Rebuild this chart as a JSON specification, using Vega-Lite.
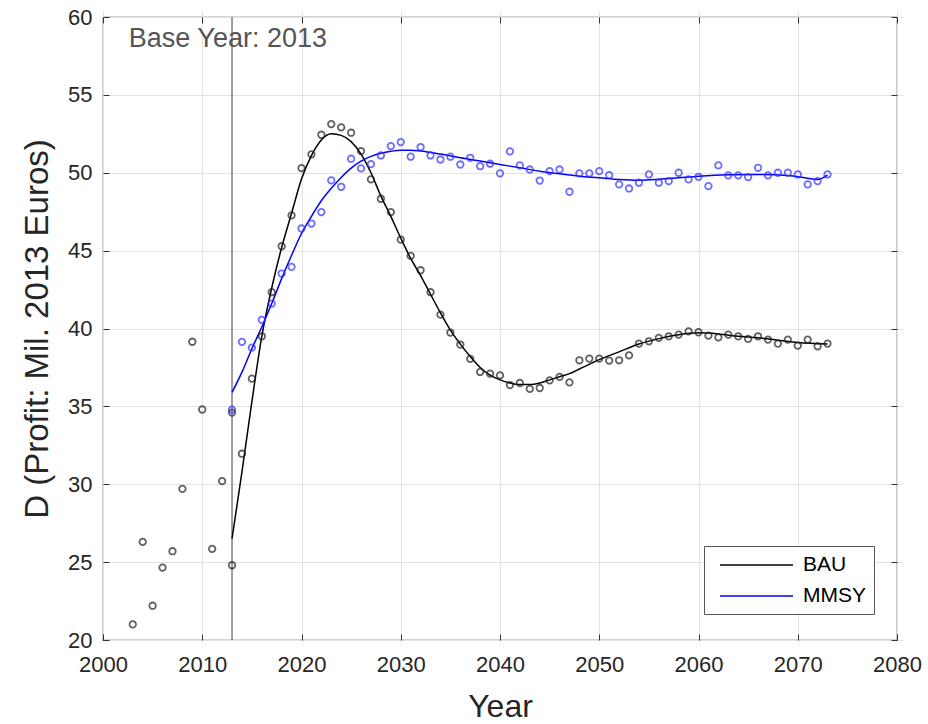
{
  "$schema": "https://vega.github.io/schema/vega-lite/v6.json",
  "width": 794,
  "height": 623,
  "autosize": {"type": "none"},
  "padding": {"left": 103, "top": 17, "right": 31, "bottom": 84},
  "background": "white",
  "config": {
    "font": "Liberation Sans",
    "view": {"stroke": "#555555", "strokeWidth": 1.2},
    "axis": {
      "labelFontSize": 22,
      "labelColor": "#262626",
      "titleColor": "#262626",
      "titleFontWeight": "normal",
      "gridColor": "#e3e3e3",
      "gridWidth": 1,
      "domain": false,
      "tickColor": "#333333",
      "tickSize": 6,
      "offset": -6,
      "labelFlush": false,
      "labelOverlap": false
    }
  },
  "datasets": {
    "pts": [
      {"series": "Hist", "year": 2003, "value": 21.0},
      {"series": "Hist", "year": 2004, "value": 26.3},
      {"series": "Hist", "year": 2005, "value": 22.2},
      {"series": "Hist", "year": 2006, "value": 24.65},
      {"series": "Hist", "year": 2007, "value": 25.7},
      {"series": "Hist", "year": 2008, "value": 29.7},
      {"series": "Hist", "year": 2009, "value": 39.15},
      {"series": "Hist", "year": 2010, "value": 34.8},
      {"series": "Hist", "year": 2011, "value": 25.85},
      {"series": "Hist", "year": 2012, "value": 30.2},
      {"series": "Hist", "year": 2013, "value": 24.8},
      {"series": "BAU", "year": 2013, "value": 34.6},
      {"series": "BAU", "year": 2014, "value": 31.96},
      {"series": "BAU", "year": 2015, "value": 36.78},
      {"series": "BAU", "year": 2016, "value": 39.5},
      {"series": "BAU", "year": 2017, "value": 42.33},
      {"series": "BAU", "year": 2018, "value": 45.28},
      {"series": "BAU", "year": 2019, "value": 47.26},
      {"series": "BAU", "year": 2020, "value": 50.3},
      {"series": "BAU", "year": 2021, "value": 51.18},
      {"series": "BAU", "year": 2022, "value": 52.44},
      {"series": "BAU", "year": 2023, "value": 53.12},
      {"series": "BAU", "year": 2024, "value": 52.91},
      {"series": "BAU", "year": 2025, "value": 52.57},
      {"series": "BAU", "year": 2026, "value": 51.39},
      {"series": "BAU", "year": 2027, "value": 49.57},
      {"series": "BAU", "year": 2028, "value": 48.33},
      {"series": "BAU", "year": 2029, "value": 47.47},
      {"series": "BAU", "year": 2030, "value": 45.71},
      {"series": "BAU", "year": 2031, "value": 44.66},
      {"series": "BAU", "year": 2032, "value": 43.74},
      {"series": "BAU", "year": 2033, "value": 42.33},
      {"series": "BAU", "year": 2034, "value": 40.89},
      {"series": "BAU", "year": 2035, "value": 39.74},
      {"series": "BAU", "year": 2036, "value": 38.97},
      {"series": "BAU", "year": 2037, "value": 38.05},
      {"series": "BAU", "year": 2038, "value": 37.21},
      {"series": "BAU", "year": 2039, "value": 37.1},
      {"series": "BAU", "year": 2040, "value": 36.99},
      {"series": "BAU", "year": 2041, "value": 36.37},
      {"series": "BAU", "year": 2042, "value": 36.5},
      {"series": "BAU", "year": 2043, "value": 36.12},
      {"series": "BAU", "year": 2044, "value": 36.18},
      {"series": "BAU", "year": 2045, "value": 36.67},
      {"series": "BAU", "year": 2046, "value": 36.89},
      {"series": "BAU", "year": 2047, "value": 36.54},
      {"series": "BAU", "year": 2048, "value": 37.96},
      {"series": "BAU", "year": 2049, "value": 38.07},
      {"series": "BAU", "year": 2050, "value": 38.07},
      {"series": "BAU", "year": 2051, "value": 37.94},
      {"series": "BAU", "year": 2052, "value": 37.96},
      {"series": "BAU", "year": 2053, "value": 38.27},
      {"series": "BAU", "year": 2054, "value": 39.03},
      {"series": "BAU", "year": 2055, "value": 39.18},
      {"series": "BAU", "year": 2056, "value": 39.4},
      {"series": "BAU", "year": 2057, "value": 39.5},
      {"series": "BAU", "year": 2058, "value": 39.61},
      {"series": "BAU", "year": 2059, "value": 39.82},
      {"series": "BAU", "year": 2060, "value": 39.76},
      {"series": "BAU", "year": 2061, "value": 39.54},
      {"series": "BAU", "year": 2062, "value": 39.43},
      {"series": "BAU", "year": 2063, "value": 39.61},
      {"series": "BAU", "year": 2064, "value": 39.5},
      {"series": "BAU", "year": 2065, "value": 39.33},
      {"series": "BAU", "year": 2066, "value": 39.5},
      {"series": "BAU", "year": 2067, "value": 39.29},
      {"series": "BAU", "year": 2068, "value": 39.03},
      {"series": "BAU", "year": 2069, "value": 39.29},
      {"series": "BAU", "year": 2070, "value": 38.9},
      {"series": "BAU", "year": 2071, "value": 39.29},
      {"series": "BAU", "year": 2072, "value": 38.86},
      {"series": "BAU", "year": 2073, "value": 39.03},
      {"series": "MMSY", "year": 2013, "value": 34.79},
      {"series": "MMSY", "year": 2014, "value": 39.14},
      {"series": "MMSY", "year": 2015, "value": 38.77},
      {"series": "MMSY", "year": 2016, "value": 40.55},
      {"series": "MMSY", "year": 2017, "value": 41.6},
      {"series": "MMSY", "year": 2018, "value": 43.53},
      {"series": "MMSY", "year": 2019, "value": 43.96},
      {"series": "MMSY", "year": 2020, "value": 46.42},
      {"series": "MMSY", "year": 2021, "value": 46.74},
      {"series": "MMSY", "year": 2022, "value": 47.47},
      {"series": "MMSY", "year": 2023, "value": 49.51},
      {"series": "MMSY", "year": 2024, "value": 49.1},
      {"series": "MMSY", "year": 2025, "value": 50.9},
      {"series": "MMSY", "year": 2026, "value": 50.28},
      {"series": "MMSY", "year": 2027, "value": 50.55},
      {"series": "MMSY", "year": 2028, "value": 51.11},
      {"series": "MMSY", "year": 2029, "value": 51.71},
      {"series": "MMSY", "year": 2030, "value": 51.97},
      {"series": "MMSY", "year": 2031, "value": 51.03},
      {"series": "MMSY", "year": 2032, "value": 51.65},
      {"series": "MMSY", "year": 2033, "value": 51.11},
      {"series": "MMSY", "year": 2034, "value": 50.85},
      {"series": "MMSY", "year": 2035, "value": 51.03},
      {"series": "MMSY", "year": 2036, "value": 50.53},
      {"series": "MMSY", "year": 2037, "value": 50.96},
      {"series": "MMSY", "year": 2038, "value": 50.42},
      {"series": "MMSY", "year": 2039, "value": 50.58},
      {"series": "MMSY", "year": 2040, "value": 49.96},
      {"series": "MMSY", "year": 2041, "value": 51.37},
      {"series": "MMSY", "year": 2042, "value": 50.47},
      {"series": "MMSY", "year": 2043, "value": 50.21},
      {"series": "MMSY", "year": 2044, "value": 49.5},
      {"series": "MMSY", "year": 2045, "value": 50.1},
      {"series": "MMSY", "year": 2046, "value": 50.21},
      {"series": "MMSY", "year": 2047, "value": 48.78},
      {"series": "MMSY", "year": 2048, "value": 49.96},
      {"series": "MMSY", "year": 2049, "value": 49.96},
      {"series": "MMSY", "year": 2050, "value": 50.1},
      {"series": "MMSY", "year": 2051, "value": 49.85},
      {"series": "MMSY", "year": 2052, "value": 49.25},
      {"series": "MMSY", "year": 2053, "value": 48.99},
      {"series": "MMSY", "year": 2054, "value": 49.36},
      {"series": "MMSY", "year": 2055, "value": 49.89},
      {"series": "MMSY", "year": 2056, "value": 49.36},
      {"series": "MMSY", "year": 2057, "value": 49.46},
      {"series": "MMSY", "year": 2058, "value": 50.0},
      {"series": "MMSY", "year": 2059, "value": 49.57},
      {"series": "MMSY", "year": 2060, "value": 49.74},
      {"series": "MMSY", "year": 2061, "value": 49.14},
      {"series": "MMSY", "year": 2062, "value": 50.47},
      {"series": "MMSY", "year": 2063, "value": 49.83},
      {"series": "MMSY", "year": 2064, "value": 49.83},
      {"series": "MMSY", "year": 2065, "value": 49.72},
      {"series": "MMSY", "year": 2066, "value": 50.32},
      {"series": "MMSY", "year": 2067, "value": 49.83},
      {"series": "MMSY", "year": 2068, "value": 50.0},
      {"series": "MMSY", "year": 2069, "value": 50.0},
      {"series": "MMSY", "year": 2070, "value": 49.89},
      {"series": "MMSY", "year": 2071, "value": 49.25},
      {"series": "MMSY", "year": 2072, "value": 49.46},
      {"series": "MMSY", "year": 2073, "value": 49.89}
    ],
    "fit": [
      {"series": "BAU", "year": 2013, "value": 26.5},
      {"series": "BAU", "year": 2014, "value": 30.8},
      {"series": "BAU", "year": 2015, "value": 35.3},
      {"series": "BAU", "year": 2016, "value": 39.5},
      {"series": "BAU", "year": 2017, "value": 42.6},
      {"series": "BAU", "year": 2018, "value": 45.2},
      {"series": "BAU", "year": 2019, "value": 47.4},
      {"series": "BAU", "year": 2020, "value": 49.6},
      {"series": "BAU", "year": 2021, "value": 51.1},
      {"series": "BAU", "year": 2022, "value": 52.1},
      {"series": "BAU", "year": 2023, "value": 52.5},
      {"series": "BAU", "year": 2024, "value": 52.4},
      {"series": "BAU", "year": 2025, "value": 52.0},
      {"series": "BAU", "year": 2026, "value": 51.2},
      {"series": "BAU", "year": 2027, "value": 50.0},
      {"series": "BAU", "year": 2028, "value": 48.5},
      {"series": "BAU", "year": 2029, "value": 47.2},
      {"series": "BAU", "year": 2030, "value": 45.8},
      {"series": "BAU", "year": 2031, "value": 44.5},
      {"series": "BAU", "year": 2032, "value": 43.4},
      {"series": "BAU", "year": 2033, "value": 42.2},
      {"series": "BAU", "year": 2034, "value": 41.0},
      {"series": "BAU", "year": 2035, "value": 39.9},
      {"series": "BAU", "year": 2036, "value": 39.0},
      {"series": "BAU", "year": 2037, "value": 38.2},
      {"series": "BAU", "year": 2038, "value": 37.5},
      {"series": "BAU", "year": 2039, "value": 37.0},
      {"series": "BAU", "year": 2040, "value": 36.7},
      {"series": "BAU", "year": 2041, "value": 36.5},
      {"series": "BAU", "year": 2042, "value": 36.4},
      {"series": "BAU", "year": 2043, "value": 36.4},
      {"series": "BAU", "year": 2044, "value": 36.5},
      {"series": "BAU", "year": 2045, "value": 36.7},
      {"series": "BAU", "year": 2046, "value": 36.9},
      {"series": "BAU", "year": 2047, "value": 37.1},
      {"series": "BAU", "year": 2048, "value": 37.4},
      {"series": "BAU", "year": 2050, "value": 38.0},
      {"series": "BAU", "year": 2052, "value": 38.5},
      {"series": "BAU", "year": 2054, "value": 39.0},
      {"series": "BAU", "year": 2056, "value": 39.35},
      {"series": "BAU", "year": 2058, "value": 39.6},
      {"series": "BAU", "year": 2060, "value": 39.72},
      {"series": "BAU", "year": 2062, "value": 39.65},
      {"series": "BAU", "year": 2064, "value": 39.5},
      {"series": "BAU", "year": 2066, "value": 39.4},
      {"series": "BAU", "year": 2068, "value": 39.25},
      {"series": "BAU", "year": 2070, "value": 39.1},
      {"series": "BAU", "year": 2073, "value": 39.0},
      {"series": "MMSY", "year": 2013, "value": 35.9},
      {"series": "MMSY", "year": 2014, "value": 37.2},
      {"series": "MMSY", "year": 2015, "value": 38.7},
      {"series": "MMSY", "year": 2016, "value": 40.1},
      {"series": "MMSY", "year": 2017, "value": 41.6},
      {"series": "MMSY", "year": 2018, "value": 43.2},
      {"series": "MMSY", "year": 2019, "value": 44.7},
      {"series": "MMSY", "year": 2020, "value": 46.1},
      {"series": "MMSY", "year": 2021, "value": 47.2},
      {"series": "MMSY", "year": 2022, "value": 48.2},
      {"series": "MMSY", "year": 2023, "value": 49.0},
      {"series": "MMSY", "year": 2024, "value": 49.7},
      {"series": "MMSY", "year": 2025, "value": 50.3},
      {"series": "MMSY", "year": 2026, "value": 50.75},
      {"series": "MMSY", "year": 2027, "value": 51.05},
      {"series": "MMSY", "year": 2028, "value": 51.25},
      {"series": "MMSY", "year": 2029, "value": 51.38},
      {"series": "MMSY", "year": 2030, "value": 51.45},
      {"series": "MMSY", "year": 2031, "value": 51.45},
      {"series": "MMSY", "year": 2032, "value": 51.4},
      {"series": "MMSY", "year": 2034, "value": 51.2},
      {"series": "MMSY", "year": 2036, "value": 50.96},
      {"series": "MMSY", "year": 2038, "value": 50.75},
      {"series": "MMSY", "year": 2040, "value": 50.53},
      {"series": "MMSY", "year": 2042, "value": 50.32},
      {"series": "MMSY", "year": 2044, "value": 50.1},
      {"series": "MMSY", "year": 2046, "value": 49.93},
      {"series": "MMSY", "year": 2048, "value": 49.78},
      {"series": "MMSY", "year": 2050, "value": 49.68},
      {"series": "MMSY", "year": 2052, "value": 49.57},
      {"series": "MMSY", "year": 2054, "value": 49.52},
      {"series": "MMSY", "year": 2056, "value": 49.58},
      {"series": "MMSY", "year": 2058, "value": 49.68},
      {"series": "MMSY", "year": 2060, "value": 49.78},
      {"series": "MMSY", "year": 2063, "value": 49.87},
      {"series": "MMSY", "year": 2066, "value": 49.89},
      {"series": "MMSY", "year": 2069, "value": 49.83},
      {"series": "MMSY", "year": 2071, "value": 49.65},
      {"series": "MMSY", "year": 2072, "value": 49.57},
      {"series": "MMSY", "year": 2073, "value": 49.85}
    ],
    "base": [
      {"year": 2013, "value": 20, "value2": 60}
    ],
    "note": [
      {"year": 2002.6, "value": 58.1, "label": "Base Year: 2013"}
    ]
  },
  "resolve": {"axis": {"x": "independent", "y": "independent"}},
  "layer": [
    {
      "data": {"name": "base"},
      "mark": {"type": "rule", "color": "#404040", "strokeWidth": 1},
      "encoding": {
        "x": {
          "field": "year",
          "type": "quantitative",
          "scale": {"domain": [2000, 2080], "nice": false, "zero": false},
          "axis": {
            "orient": "bottom",
            "values": [2000, 2010, 2020, 2030, 2040, 2050, 2060, 2070, 2080],
            "format": "d",
            "title": "Year",
            "titleFontSize": 32,
            "titlePadding": 16,
            "labelPadding": 14,
            "grid": true
          }
        },
        "y": {
          "field": "value",
          "type": "quantitative",
          "scale": {"domain": [20, 60], "nice": false, "zero": false},
          "axis": {
            "orient": "left",
            "values": [20, 25, 30, 35, 40, 45, 50, 55, 60],
            "title": "D (Profit: Mil. 2013 Euros)",
            "titleFontSize": 33,
            "titlePadding": 13,
            "labelPadding": 11,
            "grid": true
          }
        },
        "y2": {"field": "value2"}
      }
    },
    {
      "data": {"name": "fit"},
      "mark": {"type": "line", "strokeWidth": 1.5, "interpolate": "monotone"},
      "encoding": {
        "x": {"field": "year", "type": "quantitative", "axis": null},
        "y": {"field": "value", "type": "quantitative", "axis": null},
        "color": {
          "field": "series",
          "type": "nominal",
          "scale": {"domain": ["BAU", "MMSY"], "range": ["#000000", "#0000ff"]},
          "legend": {
            "title": null,
            "orient": "none",
            "legendX": 601,
            "legendY": 529,
            "direction": "vertical",
            "fillColor": "white",
            "strokeColor": "#555555",
            "padding": 8,
            "symbolType": "M-0.3,0H7",
            "symbolSize": 400,
            "symbolStrokeWidth": 1.5,
            "labelFontSize": 21,
            "labelColor": "#000000",
            "labelOffset": 69,
            "rowPadding": 10
          }
        }
      }
    },
    {
      "data": {"name": "pts"},
      "mark": {"type": "point", "shape": "circle", "filled": false, "size": 42, "strokeWidth": 1.8},
      "encoding": {
        "x": {"field": "year", "type": "quantitative", "axis": null},
        "y": {"field": "value", "type": "quantitative", "axis": null},
        "stroke": {
          "field": "series",
          "type": "nominal",
          "scale": {"domain": ["Hist", "BAU", "MMSY"], "range": ["#1f1f1f", "#1f1f1f", "#3030ff"]},
          "legend": null
        }
      }
    },
    {
      "data": {"name": "note"},
      "mark": {"type": "text", "align": "left", "baseline": "alphabetic", "fontSize": 27, "color": "#555555"},
      "encoding": {
        "x": {
          "field": "year",
          "type": "quantitative",
          "axis": {
            "orient": "top",
            "values": [2000, 2010, 2020, 2030, 2040, 2050, 2060, 2070, 2080],
            "labels": false,
            "title": null,
            "grid": false
          }
        },
        "y": {
          "field": "value",
          "type": "quantitative",
          "axis": {
            "orient": "right",
            "values": [20, 25, 30, 35, 40, 45, 50, 55, 60],
            "labels": false,
            "title": null,
            "grid": false
          }
        },
        "text": {"field": "label"}
      }
    }
  ]
}
